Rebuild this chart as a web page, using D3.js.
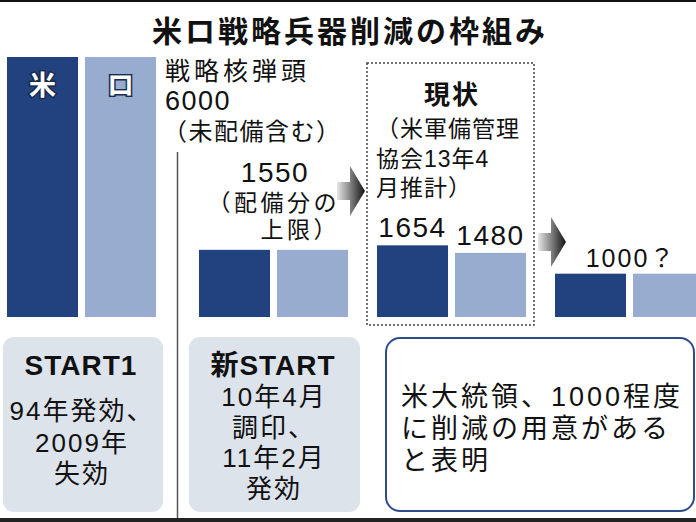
<!DOCTYPE html>
<html>
<head>
<meta charset="utf-8">
<script src="https://cdn.jsdelivr.net/npm/d3@7"></script>
<style>
  body { margin: 0; background: #fff; }
  text { font-family: "Liberation Sans", "Noto Sans CJK JP", sans-serif; fill: #111; }
</style>
</head>
<body>
<div id="chart"></div>
<script>
// data
const groups = ["START1", "新START", "現状", "将来"];
const countries = ["米", "ロ"];
const usValues = [6000, 1550, 1654, 1000];
const ruValues = [6000, 1550, 1480, 1000];
const boxTitles = ["START1", "新START"];
const boxLines = [["94年発効、", "2009年", "失効"], ["10年4月", "調印、", "11年2月", "発効"]];
const noteLines = ["米大統領、1000程度", "に削減の用意がある", "と表明"];
const currentLines = ["（米軍備管理", "協会13年4", "月推計）"];

const width = 696, height = 522;
const usColor = "#22427f", ruColor = "#98acd0";

const svg = d3.select("#chart").append("svg")
  .attr("width", width)
  .attr("height", height);

// scales
const y = d3.scaleLinear().domain([0, 6000]).range([317, 57]);
const xGroup = d3.scaleOrdinal().domain(groups).range([7, 199, 377, 555]);
const xInner = d3.scaleBand().domain(countries).range([0, 149]).paddingInner(7 / 78);

// rows: one per bar
const rows = [];
groups.forEach((g, i) => {
  rows.push({group: g, country: "米", value: usValues[i]});
  rows.push({group: g, country: "ロ", value: ruValues[i]});
});

// frame lines
svg.append("rect").attr("x", 0).attr("y", 0).attr("width", width).attr("height", 2).attr("fill", "#111");
svg.append("rect").attr("x", 0).attr("y", 518).attr("width", width).attr("height", 4).attr("fill", "#222");

// title
svg.append("text")
  .attr("x", 350).attr("y", 42)
  .attr("text-anchor", "middle")
  .attr("font-size", 30).attr("font-weight", "bold")
  .attr("letter-spacing", 3)
  .text("米ロ戦略兵器削減の枠組み");

// separator line
svg.append("line")
  .attr("x1", 177.5).attr("x2", 177.5).attr("y1", 152).attr("y2", 518)
  .attr("stroke", "#555").attr("stroke-width", 1.5);

// dotted box for current state
svg.append("rect")
  .attr("x", 367).attr("y", 63).attr("width", 167).attr("height", 262)
  .attr("fill", "none").attr("stroke", "#444")
  .attr("stroke-width", 1.5).attr("stroke-dasharray", "2,2");

// bars
svg.selectAll("rect.bar")
  .data(rows)
  .join("rect")
    .attr("class", "bar")
    .attr("x", d => xGroup(d.group) + xInner(d.country))
    .attr("y", d => y(d.value))
    .attr("width", xInner.bandwidth())
    .attr("height", d => y(0) - y(d.value))
    .attr("fill", d => d.country === "米" ? usColor : ruColor);

// country labels in the first bars
svg.selectAll("text.country")
  .data(countries)
  .join("text")
    .attr("class", "country")
    .attr("x", d => xGroup(groups[0]) + xInner(d) + xInner.bandwidth() / 2)
    .attr("y", 95)
    .attr("text-anchor", "middle")
    .attr("font-size", 27).attr("font-weight", "bold")
    .style("fill", "#fff")
    .style("stroke", "#1a2a4a").style("stroke-width", 3)
    .style("paint-order", "stroke")
    .text(d => d);

// START1 annotation
svg.append("text").attr("x", 165).attr("y", 80)
  .attr("font-size", 25).attr("letter-spacing", 4).text("戦略核弾頭");
svg.append("text").attr("x", 165).attr("y", 110)
  .attr("font-size", 27).attr("letter-spacing", 1.5).text(usValues[0]);
svg.append("text").attr("x", 163).attr("y", 140)
  .attr("font-size", 24).attr("letter-spacing", 1.5).text("（未配備含む）");

// new START annotation
svg.append("text")
  .attr("x", 275).attr("y", 182)
  .attr("text-anchor", "middle")
  .attr("font-size", 28).attr("letter-spacing", 1.5)
  .text(usValues[1]);
svg.append("text").attr("x", 340).attr("y", 211).attr("text-anchor", "end")
  .attr("font-size", 23).attr("letter-spacing", 3.5).text("（配備分の");
svg.append("text").attr("x", 340).attr("y", 238).attr("text-anchor", "end")
  .attr("font-size", 23).attr("letter-spacing", 3.5).text("上限）");

// current state annotation
svg.append("text")
  .attr("x", 452).attr("y", 104)
  .attr("text-anchor", "middle")
  .attr("font-size", 26).attr("font-weight", "bold")
  .attr("letter-spacing", 2)
  .text("現状");
svg.selectAll("text.cur")
  .data(currentLines)
  .join("text")
    .attr("class", "cur")
    .attr("x", 376)
    .attr("y", (d, i) => 137 + i * 29.5)
    .attr("font-size", 23).attr("letter-spacing", 1)
    .text(d => d);

// value labels of current bars
svg.selectAll("text.val")
  .data(rows.filter(d => d.group === groups[2]))
  .join("text")
    .attr("class", "val")
    .attr("x", d => xGroup(d.group) + xInner(d.country) + xInner.bandwidth() / 2)
    .attr("y", d => y(d.value) - 8)
    .attr("text-anchor", "middle")
    .attr("font-size", 28).attr("letter-spacing", 1.5)
    .text(d => d.value);

// future label
svg.append("text")
  .attr("x", xGroup(groups[3]) + 76)
  .attr("y", y(usValues[3]) - 7)
  .attr("text-anchor", "middle")
  .attr("font-size", 25).attr("letter-spacing", 2)
  .text(usValues[3] + "？");

// gradient arrows
const grad = svg.append("defs").append("linearGradient")
  .attr("id", "arrowGrad").attr("x1", "0%").attr("x2", "100%");
grad.append("stop").attr("offset", "0%").attr("stop-color", "#e8e8e8");
grad.append("stop").attr("offset", "100%").attr("stop-color", "#111");

function arrow(x0, cy) {
  const p = d3.path();
  p.moveTo(x0, cy - 9);
  p.lineTo(x0 + 13, cy - 9);
  p.lineTo(x0 + 13, cy - 25);
  p.lineTo(x0 + 28, cy);
  p.lineTo(x0 + 13, cy + 25);
  p.lineTo(x0 + 13, cy + 9);
  p.lineTo(x0, cy + 9);
  p.closePath();
  svg.append("path").attr("d", p.toString()).attr("fill", "url(#arrowGrad)");
}
arrow(337, 191);
arrow(538, 242);

// bottom info boxes
const boxes = [
  {x: 3, w: 160, cx: 78, y0: 83, step: 31.5},
  {x: 189, w: 171, cx: 84, y0: 69, step: 30.5}
];
boxTitles.forEach((t, i) => {
  const b = boxes[i];
  const g = svg.append("g").attr("transform", `translate(${b.x},337)`);
  g.append("rect").attr("width", b.w).attr("height", 175).attr("rx", 11).attr("fill", "#dde3eb");
  g.append("text").attr("x", b.cx).attr("y", 38).attr("text-anchor", "middle")
    .attr("font-size", 28).attr("font-weight", "bold").attr("letter-spacing", 1).text(t);
  g.selectAll("text.l")
    .data(boxLines[i])
    .join("text")
      .attr("class", "l")
      .attr("x", b.cx + 1)
      .attr("y", (d, j) => b.y0 + j * b.step)
      .attr("text-anchor", "middle")
      .attr("font-size", 26).attr("letter-spacing", 2)
      .text(d => d);
});

// note box
const nb = svg.append("g").attr("transform", "translate(386,338)");
nb.append("rect").attr("width", 308).attr("height", 173).attr("rx", 14)
  .attr("fill", "#fff").attr("stroke", "#2c4c8c").attr("stroke-width", 2);
nb.selectAll("text")
  .data(noteLines)
  .join("text")
    .attr("x", 15)
    .attr("y", (d, i) => 68 + i * 32)
    .attr("font-size", 27).attr("letter-spacing", 3)
    .text(d => d);
</script>
</body>
</html>
